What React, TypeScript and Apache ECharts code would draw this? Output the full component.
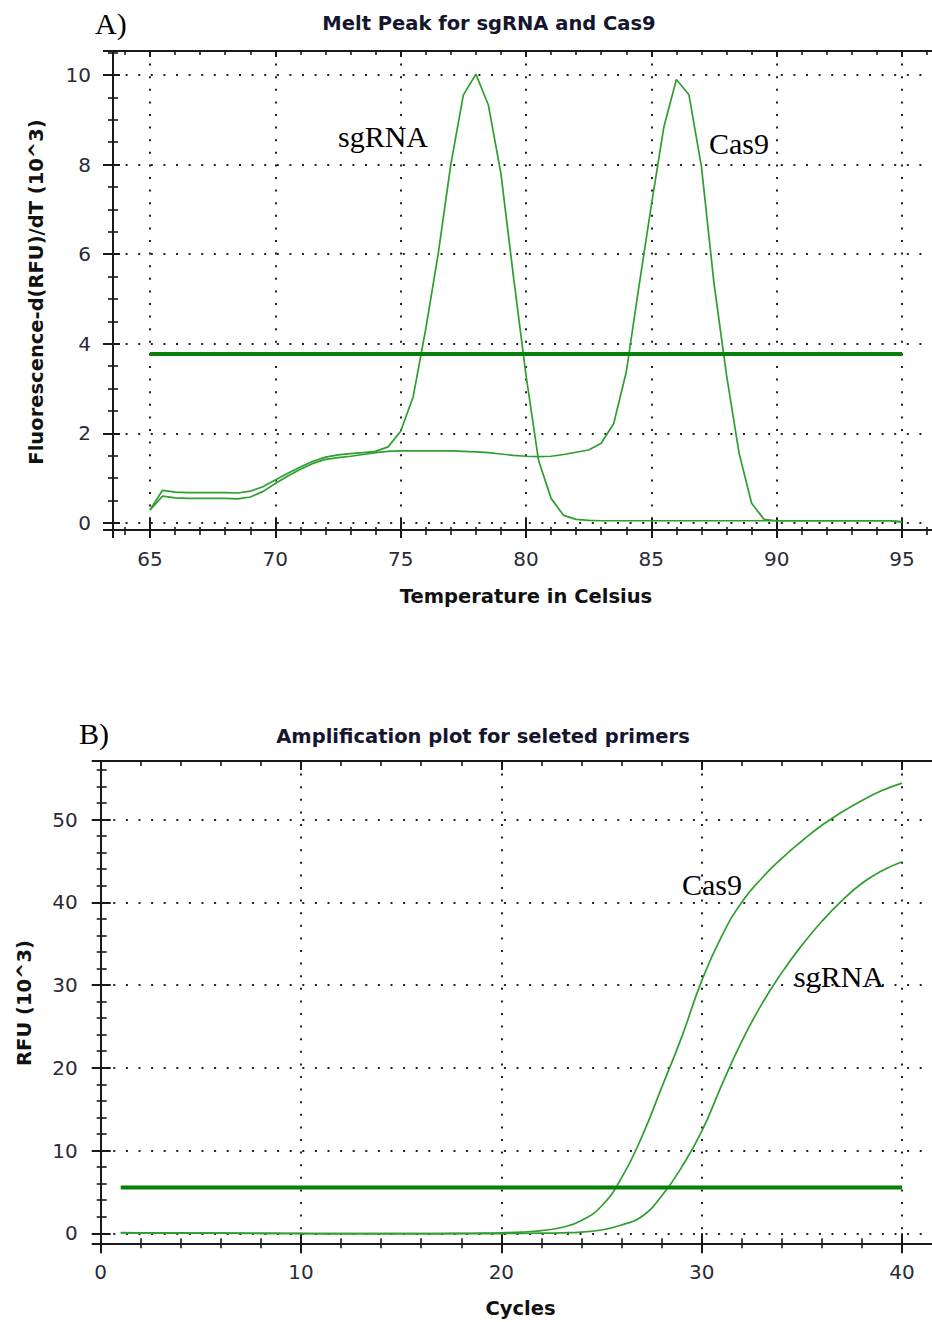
import React, { useEffect, useRef } from "react";
import * as echarts from "echarts";

// ---------- Panel A: melt peak ----------
const meltTemps = [
  65, 65.5, 66, 66.5, 67, 67.5, 68, 68.5, 69, 69.5, 70, 70.5, 71, 71.5, 72, 72.5,
  73, 73.5, 74, 74.5, 75, 75.5, 76, 76.5, 77, 77.5, 78, 78.5, 79, 79.5, 80, 80.5,
  81, 81.5, 82, 82.5, 83, 83.5, 84, 84.5, 85, 85.5, 86, 86.5, 87, 87.5, 88, 88.5,
  89, 89.5, 90, 90.5, 91, 91.5, 92, 92.5, 93, 93.5, 94, 94.5, 95,
];
const meltSgRNA = [
  0.29, 0.73, 0.69, 0.68, 0.68, 0.68, 0.68, 0.67, 0.71, 0.81, 0.96, 1.11, 1.25, 1.38, 1.47, 1.52,
  1.55, 1.57, 1.6, 1.7, 2.05, 2.82, 4.33, 6.02, 8.0, 9.55, 10.02, 9.33, 7.8, 5.5, 3.3, 1.4,
  0.55, 0.17, 0.08, 0.06, 0.05, 0.05, 0.05, 0.05, 0.05, 0.05, 0.05, 0.05, 0.05, 0.05, 0.05, 0.05,
  0.05, 0.05, 0.05, 0.05, 0.05, 0.05, 0.05, 0.05, 0.05, 0.05, 0.05, 0.05, 0.03,
];
const meltCas9 = [
  0.29, 0.6, 0.56, 0.55, 0.55, 0.55, 0.55, 0.54, 0.58, 0.7, 0.88, 1.05, 1.2, 1.33, 1.42, 1.46,
  1.49, 1.53, 1.57, 1.6, 1.61, 1.61, 1.61, 1.61, 1.61, 1.6, 1.59, 1.57, 1.54, 1.51, 1.49, 1.48,
  1.49, 1.53, 1.58, 1.63, 1.78, 2.22, 3.37, 5.26, 7.09, 8.84, 9.9, 9.56, 7.95, 5.35, 3.3, 1.56,
  0.44, 0.08, 0.05, 0.05, 0.05, 0.05, 0.05, 0.05, 0.05, 0.05, 0.05, 0.05, 0.02,
];
const meltThreshold = 3.77;
const meltThresholdRange = [65, 95];

// ---------- Panel B: amplification ----------
const cycles = [
  1, 2, 3, 4, 5, 6, 7, 8, 9, 10, 11, 12, 13, 14, 15, 16, 17, 18, 19, 20,
  21, 22, 23, 24, 25, 26, 27, 28, 29, 30, 31, 32, 33, 34, 35, 36, 37, 38, 39, 40,
];
const ampCas9 = [
  0.08, 0.06, 0.05, 0.04, 0.03, 0.02, 0.01, 0.0, -0.02, -0.03, -0.04, -0.05, -0.05, -0.05, -0.05, -0.04, -0.03, -0.01, 0.02, 0.06,
  0.15, 0.32, 0.7, 1.55, 3.3, 6.7, 11.6, 17.6, 23.7, 30.5, 35.9, 40.0, 42.9, 45.3, 47.4, 49.3, 50.9, 52.3, 53.5, 54.4,
];
const ampSgRNA = [
  0.05, 0.04, 0.03, 0.02, 0.02, 0.01, 0.0, 0.0, -0.01, -0.02, -0.03, -0.04, -0.04, -0.05, -0.05, -0.05, -0.05, -0.05, -0.04, -0.03,
  -0.01, 0.02, 0.06, 0.15, 0.4, 1.0, 2.0, 4.5, 8.0, 12.3, 17.9, 23.2, 27.7, 31.5, 34.8, 37.7, 40.2, 42.3, 43.8, 44.9,
];
const ampThreshold = 5.53;
const ampThresholdRange = [1, 40];

// ---------- styling ----------
const AXIS = "#1a1a1a";
const LABEL = "#2a2a38";
const TITLE = "#15152e";
const CURVE = "#2f9e2f";
const THRESH = "#078007";
const GRIDDOT = { type: [2, 10.6] as any, color: "#222", width: 2 };

type AxisOpt = {
  grid: number;
  position: string;
  min: number;
  max: number;
  step: number;
  minorSplit: number;
  tickLen: number;
  minorLen: number;
  inside: boolean;
  line: boolean;
  labels: boolean;
  split: boolean;
  margin?: number;
  showMin?: boolean;
};

function axis(o: AxisOpt) {
  return {
    type: "value",
    gridIndex: o.grid,
    position: o.position,
    min: o.min,
    max: o.max,
    minInterval: o.step,
    maxInterval: o.step,
    splitNumber: 6,
    axisLine: { show: o.line, onZero: false, lineStyle: { color: AXIS, width: 2 } },
    axisTick: { show: true, inside: o.inside, length: o.tickLen, lineStyle: { color: AXIS, width: 2 } },
    minorTick: {
      show: true,
      splitNumber: o.minorSplit,
      length: o.minorLen,
      lineStyle: { color: AXIS, width: 1.6 },
    },
    axisLabel: {
      show: o.labels,
      margin: o.margin ?? 20,
      fontSize: 20,
      fontFamily: "DejaVu Sans",
      color: LABEL,
      showMinLabel: o.showMin ?? false,
      showMaxLabel: false,
    },
    splitLine: { show: o.split, lineStyle: GRIDDOT },
    minorSplitLine: { show: false },
  };
}

const A_X = [63.524, 96.915];
const A_Y = [-0.156, 10.536];
const B_X = [0, 42.395];
const B_Y = [-1.21, 57.07];

function txt(
  text: string,
  x: number,
  y: number,
  font: { size: number; family: string; weight?: string; color?: string },
  align: string,
  rotation = 0
) {
  return {
    type: "text",
    x,
    y,
    rotation,
    silent: true,
    style: {
      text,
      fontSize: font.size,
      fontFamily: font.family,
      fontWeight: font.weight || "normal",
      fill: font.color || "#000",
      align,
      verticalAlign: "middle",
      textAlign: align,
      textVerticalAlign: "middle",
    },
  };
}

const SANSB = { size: 19.5, family: "DejaVu Sans", weight: "bold", color: TITLE };
const SANSB_AX = { size: 19.5, family: "DejaVu Sans", weight: "bold", color: "#111" };
const SERIF = { size: 30, family: "Liberation Serif, Times New Roman, serif", color: "#000" };

export default function App() {
  const ref = useRef<HTMLDivElement>(null);

  useEffect(() => {
    if (!ref.current) return;
    const chart = echarts.init(ref.current, undefined, { renderer: "svg" });

    const lineSeries = (name: string, xs: number[], ys: number[], xi: number, yi: number, smooth: any) => ({
      name,
      type: "line",
      xAxisIndex: xi,
      yAxisIndex: yi,
      data: xs.map((x, i) => [x, ys[i]]),
      showSymbol: false,
      smooth,
      lineStyle: { color: CURVE, width: 1.7 },
      itemStyle: { color: CURVE },
      z: 3,
    });

    const threshSeries = (name: string, range: number[], v: number, xi: number, yi: number) => ({
      name,
      type: "line",
      xAxisIndex: xi,
      yAxisIndex: yi,
      data: [
        [range[0], v],
        [range[1], v],
      ],
      showSymbol: false,
      lineStyle: { color: THRESH, width: 4 },
      itemStyle: { color: THRESH },
      z: 4,
    });

    chart.setOption({
      animation: false,
      backgroundColor: "#ffffff",
      grid: [
        { left: 113, top: 51, width: 837, height: 479, containLabel: false, outerBoundsMode: "none" },
        { left: 100.7, top: 761, width: 849.3, height: 482.3, containLabel: false, outerBoundsMode: "none" },
      ],
      xAxis: [
        axis({ grid: 0, position: "bottom", min: A_X[0], max: A_X[1], step: 5, minorSplit: 5, tickLen: 8, minorLen: 5, inside: false, line: true, labels: true, split: true, margin: 19 }),
        axis({ grid: 0, position: "bottom", min: A_X[0], max: A_X[1], step: 5, minorSplit: 5, tickLen: 11, minorLen: 3, inside: true, line: false, labels: false, split: false }),
        axis({ grid: 0, position: "top", min: A_X[0], max: A_X[1], step: 5, minorSplit: 5, tickLen: 6, minorLen: 4, inside: true, line: true, labels: false, split: false }),
        axis({ grid: 1, position: "bottom", min: B_X[0], max: B_X[1], step: 10, minorSplit: 5, tickLen: 10, minorLen: 5, inside: false, line: true, labels: true, split: true, margin: 19, showMin: true }),
        axis({ grid: 1, position: "bottom", min: B_X[0], max: B_X[1], step: 10, minorSplit: 5, tickLen: 10, minorLen: 5, inside: true, line: false, labels: false, split: false }),
        axis({ grid: 1, position: "top", min: B_X[0], max: B_X[1], step: 10, minorSplit: 5, tickLen: 9, minorLen: 5, inside: true, line: true, labels: false, split: false }),
      ],
      yAxis: [
        axis({ grid: 0, position: "left", min: A_Y[0], max: A_Y[1], step: 2, minorSplit: 4, tickLen: 10, minorLen: 5, inside: false, line: true, labels: true, split: true, margin: 22 }),
        axis({ grid: 0, position: "left", min: A_Y[0], max: A_Y[1], step: 2, minorSplit: 4, tickLen: 7, minorLen: 5, inside: true, line: false, labels: false, split: false }),
        axis({ grid: 1, position: "left", min: B_Y[0], max: B_Y[1], step: 10, minorSplit: 5, tickLen: 9, minorLen: 4, inside: false, line: true, labels: true, split: true, margin: 23 }),
        axis({ grid: 1, position: "left", min: B_Y[0], max: B_Y[1], step: 10, minorSplit: 5, tickLen: 10, minorLen: 6, inside: true, line: false, labels: false, split: false }),
      ],
      series: [
        lineSeries("sgRNA melt", meltTemps, meltSgRNA, 0, 0, false),
        lineSeries("Cas9 melt", meltTemps, meltCas9, 0, 0, false),
        threshSeries("Melt threshold", meltThresholdRange, meltThreshold, 0, 0),
        lineSeries("Cas9 amplification", cycles, ampCas9, 3, 2, 0.5),
        lineSeries("sgRNA amplification", cycles, ampSgRNA, 3, 2, 0.5),
        threshSeries("Amplification threshold", ampThresholdRange, ampThreshold, 3, 2),
      ],
      graphic: [
        txt("A)", 95, 23, SERIF, "left"),
        txt("Melt Peak for sgRNA and Cas9", 489, 23.5, SANSB, "center"),
        txt("sgRNA", 338, 136, SERIF, "left"),
        txt("Cas9", 709, 143, SERIF, "left"),
        txt("Temperature in Celsius", 526, 596, SANSB_AX, "center"),
        txt("Fluorescence-d(RFU)/dT (10^3)", 36, 292, SANSB_AX, "center", Math.PI / 2),
        txt("B)", 79, 733, SERIF, "left"),
        txt("Amplification plot for seleted primers", 483, 736, SANSB, "center"),
        txt("Cas9", 682, 884, SERIF, "left"),
        txt("sgRNA", 794, 976, SERIF, "left"),
        txt("Cycles", 520.5, 1308, SANSB_AX, "center"),
        txt("RFU (10^3)", 24, 1003, SANSB_AX, "center", Math.PI / 2),
      ],
    });

    return () => chart.dispose();
  }, []);

  return (
    <div
      style={{
        position: "absolute",
        left: 0,
        top: 0,
        width: 932,
        height: 1322,
        overflow: "hidden",
        background: "#fff",
      }}
    >
      <div ref={ref} style={{ width: 960, height: 1322 }} />
    </div>
  );
}
